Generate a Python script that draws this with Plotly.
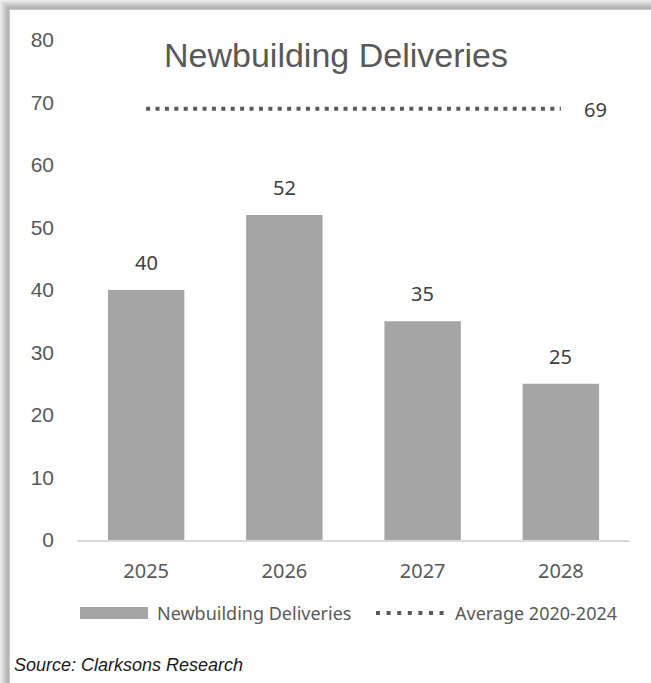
import plotly.graph_objects as go

# ---- data ----
years = ["2025", "2026", "2027", "2028"]
deliveries = [40, 52, 35, 25]
average_2020_2024 = [69, 69, 69, 69]
y_ticks = [0, 10, 20, 30, 40, 50, 60, 70, 80]
title_text = "Newbuilding Deliveries"
bar_name = "Newbuilding Deliveries"
line_name = "Average 2020-2024"
source_text = "Source: Clarksons Research"

# ---- layout geometry (pixels) ----
W, H = 651, 683
ML, MR, MT, MB = 77, 21, 40, 143
PW, PH = W - ML - MR, H - MT - MB


def px(x):
    return (x - ML) / PW


def py(y):
    return (H - MB - y) / PH


BAR_COLOR = "#a5a5a5"
TEXT_COLOR = "#595959"
LABEL_COLOR = "#404040"
DOT_COLOR = "#595959"
SANS = "Noto Sans"
ARIAL = "Liberation Sans"

fig = go.Figure()
fig.add_trace(go.Bar(
    x=years, y=deliveries, name=bar_name,
    marker=dict(color=BAR_COLOR, line=dict(width=0)),
    showlegend=False, hoverinfo="x+y",
))
fig.add_trace(go.Scatter(
    x=years, y=average_2020_2024, name=line_name, mode="lines",
    line=dict(color=DOT_COLOR, width=4, dash="4px,5.4px"),
    showlegend=False,
))

annotations = []
# data labels above bars (category index positions on the x axis)
for i, yv in enumerate(deliveries):
    annotations.append(dict(
        x=i, y=yv, xref="x", yref="y", text=str(yv), showarrow=False,
        yanchor="bottom", yshift=12,
        font=dict(family=SANS, size=20, color=LABEL_COLOR),
    ))
# label for average line (last point)
annotations.append(dict(
    x=len(years) - 1, y=average_2020_2024[-1], xref="x", yref="y",
    text=str(average_2020_2024[-1]), showarrow=False,
    xanchor="left", xshift=21, yshift=-1,
    font=dict(family=SANS, size=20, color=LABEL_COLOR),
))
# title
annotations.append(dict(
    x=px(336), y=py(55), xref="paper", yref="paper", text=title_text,
    showarrow=False, xanchor="center", yanchor="middle",
    font=dict(family=ARIAL, size=34, color=TEXT_COLOR),
))
# legend texts
annotations.append(dict(
    x=px(155), y=py(613), xref="paper", yref="paper", text=bar_name,
    showarrow=False, xanchor="left", yanchor="middle",
    font=dict(family=SANS, size=18, color=TEXT_COLOR),
))
annotations.append(dict(
    x=px(453), y=py(613), xref="paper", yref="paper", text=line_name,
    showarrow=False, xanchor="left", yanchor="middle",
    font=dict(family=SANS, size=18, color=TEXT_COLOR),
))
# source
annotations.append(dict(
    x=px(12), y=py(665), xref="paper", yref="paper",
    text="<i>" + source_text + "</i>",
    showarrow=False, xanchor="left", yanchor="middle",
    font=dict(family=ARIAL, size=18, color="#1a1a1a"),
))

shapes = []
# card shadow on top and left edges
shade = ["#ececec", "#e4e4e4", "#dcdcdc", "#d4d4d4", "#cccccc",
         "#c4c4c4", "#bcbcbc", "#b6b6b6", "#b4b4b4", "#c8c8c8"]
for i, c in enumerate(shade):
    shapes.append(dict(type="rect", xref="paper", yref="paper",
                       x0=px(i), x1=px(W), y0=py(i), y1=py(i + 1),
                       fillcolor=c, line=dict(width=0), layer="below"))
    shapes.append(dict(type="rect", xref="paper", yref="paper",
                       x0=px(i), x1=px(i + 1), y0=py(i), y1=py(H),
                       fillcolor=c, line=dict(width=0), layer="below"))
# legend swatches
shapes.append(dict(type="rect", xref="paper", yref="paper",
                   x0=px(80), x1=px(148), y0=py(619), y1=py(607),
                   fillcolor=BAR_COLOR, line=dict(width=0)))
shapes.append(dict(type="line", xref="paper", yref="paper",
                   x0=px(376), x1=px(445), y0=py(613), y1=py(613),
                   line=dict(color=DOT_COLOR, width=4, dash="4px,6.6px")))

fig.update_layout(
    width=W, height=H,
    margin=dict(l=ML, r=MR, t=MT, b=MB, pad=0),
    paper_bgcolor="white", plot_bgcolor="white",
    bargap=0.447,
    showlegend=False,
    annotations=annotations,
    shapes=shapes,
    xaxis=dict(
        type="category", range=[-0.5, len(years) - 0.5],
        showgrid=False, zeroline=False,
        showline=True, linecolor="#d9d9d9", linewidth=1.5,
        ticks="", ticklabelstandoff=12,
        tickfont=dict(family=SANS, size=20, color=TEXT_COLOR),
    ),
    yaxis=dict(
        range=[0, 80], tickvals=y_ticks, showgrid=False, zeroline=False,
        showline=False, ticks="", ticklabelstandoff=22,
        tickfont=dict(family=ARIAL, size=21, color=TEXT_COLOR),
    ),
)

fig.write_html("out.html")
